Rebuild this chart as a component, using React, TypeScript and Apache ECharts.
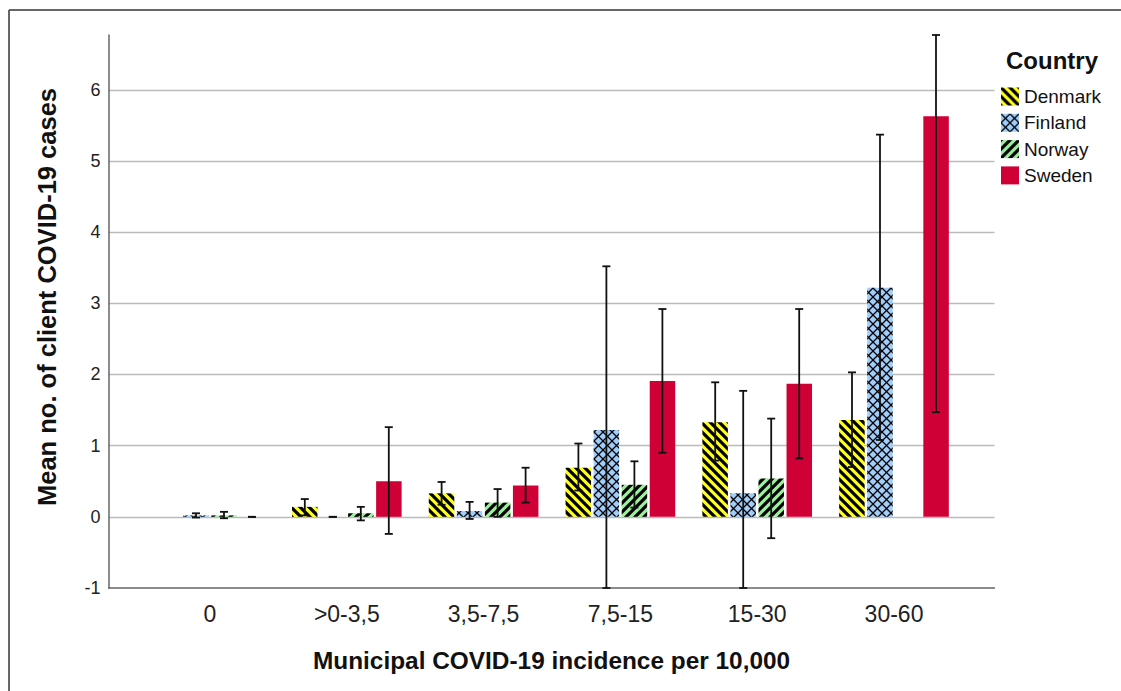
import React, { useEffect, useRef } from 'react';
import * as echarts from 'echarts';

const categories = ['0', '>0-3,5', '3,5-7,5', '7,5-15', '15-30', '30-60'];
const countries = ['Denmark', 'Finland', 'Norway', 'Sweden'];

const denmarkMean = [null, 0.14, 0.33, 0.69, 1.33, 1.36];
const denmarkLow = [null, 0.02, 0.17, 0.37, 0.79, 0.7];
const denmarkHigh = [null, 0.25, 0.49, 1.03, 1.89, 2.03];

const finlandMean = [0.02, 0, 0.08, 1.22, 0.33, 3.22];
const finlandLow = [-0.01, 0, -0.03, -1.0, -1.0, 1.08];
const finlandHigh = [0.05, 0, 0.21, 3.52, 1.77, 5.37];

const norwayMean = [0.02, 0.05, 0.2, 0.45, 0.54, null];
const norwayLow = [-0.02, -0.05, 0.0, 0.13, -0.3, null];
const norwayHigh = [0.07, 0.14, 0.39, 0.78, 1.38, null];

const swedenMean = [0, 0.5, 0.44, 1.91, 1.87, 5.63];
const swedenLow = [0, -0.24, 0.2, 0.9, 0.82, 1.47];
const swedenHigh = [0, 1.26, 0.69, 2.92, 2.92, 6.77];

const yMin = -1;
const yMax = 6.77;
const yInterval = 1;

const FONT = '"Liberation Sans", Arial, Helvetica, sans-serif';

function makePattern(bg: string, kind: 'back' | 'fwd' | 'cross') {
  const T = 9;
  const s = 4;
  const size = Math.round(T * s);
  const c = document.createElement('canvas');
  c.width = size;
  c.height = size;
  const ctx = c.getContext('2d') as CanvasRenderingContext2D;
  ctx.fillStyle = bg;
  ctx.fillRect(0, 0, size, size);
  ctx.strokeStyle = '#000';
  const back = (lw: number) => {
    ctx.lineWidth = lw * s;
    for (const x0 of [-size, 0, size]) {
      ctx.beginPath();
      ctx.moveTo(x0 - size, -size);
      ctx.lineTo(x0 + 2 * size, 2 * size);
      ctx.stroke();
    }
  };
  const fwd = (lw: number) => {
    ctx.lineWidth = lw * s;
    for (const x0 of [-size, 0, size]) {
      ctx.beginPath();
      ctx.moveTo(x0 + 2 * size, -size);
      ctx.lineTo(x0 - size, 2 * size);
      ctx.stroke();
    }
  };
  if (kind === 'back') back(3.2);
  if (kind === 'fwd') fwd(3.2);
  if (kind === 'cross') {
    back(1.3);
    fwd(1.3);
  }
  return { image: c, repeat: 'repeat', imageWidth: T, imageHeight: T } as any;
}

const BAR_W = 25.5;
const STEP = 28;

export default function App() {
  const ref = useRef<HTMLDivElement>(null);
  useEffect(() => {
    if (!ref.current) return;
    const chart = echarts.init(ref.current, undefined, { renderer: 'svg' });

    const fills = [
      makePattern('#ffff1e', 'back'),
      makePattern('#a0cefa', 'cross'),
      makePattern('#9cf09c', 'fwd'),
      '#cf0036',
    ];
    const means = [denmarkMean, finlandMean, norwayMean, swedenMean];
    const lows = [denmarkLow, finlandLow, norwayLow, swedenLow];
    const highs = [denmarkHigh, finlandHigh, norwayHigh, swedenHigh];

    const barSeries = countries.map((name, k) => ({
      name,
      type: 'bar',
      xAxisIndex: 1,
      yAxisIndex: 1,
      barWidth: BAR_W,
      barGap: '10%',
      itemStyle: { color: fills[k] },
      data: means[k],
      z: 2,
    }));

    const errSeries = countries.map((name, k) => {
      const data: number[][] = [];
      categories.forEach((_, i) => {
        const lo = lows[k][i];
        const hi = highs[k][i];
        if (lo != null && hi != null) data.push([i, lo, hi]);
      });
      const offset = (k - 1.5) * STEP;
      return {
        type: 'custom',
        xAxisIndex: 1,
        yAxisIndex: 1,
        z: 5,
        silent: true,
        encode: { x: 0, y: [1, 2] },
        data,
        renderItem: (params: any, api: any) => {
          const ci = api.value(0);
          const pLo = api.coord([ci, api.value(1)]);
          const pHi = api.coord([ci, api.value(2)]);
          const x = pLo[0] + offset;
          const cap = 4;
          const st = { stroke: '#111', lineWidth: 1.8 };
          return {
            type: 'group',
            children: [
              { type: 'line', shape: { x1: x, y1: pHi[1], x2: x, y2: pLo[1] }, style: st },
              { type: 'line', shape: { x1: x - cap, y1: pHi[1], x2: x + cap, y2: pHi[1] }, style: st },
              { type: 'line', shape: { x1: x - cap, y1: pLo[1], x2: x + cap, y2: pLo[1] }, style: st },
            ],
          };
        },
      };
    });

    const option: any = {
      animation: false,
      backgroundColor: '#ffffff',
      textStyle: { fontFamily: FONT },
      title: {
        text: 'Country',
        left: 1006,
        top: 48,
        padding: 0,
        textStyle: { fontSize: 24, fontWeight: 'bold', color: '#111', fontFamily: FONT },
      },
      legend: {
        data: countries,
        orient: 'vertical',
        left: 1001,
        top: 87,
        padding: 0,
        itemWidth: 18,
        itemHeight: 18,
        itemGap: 7.3,
        icon: 'rect',
        selectedMode: false,
        textStyle: { fontSize: 19, color: '#111', fontFamily: FONT, padding: [0, 0, 0, 0] },
      },
      grid: [
        { left: 108.6, right: 126.5, top: 35, bottom: 103 },
        { left: 141.6, right: 158.6, top: 35, bottom: 103 },
      ],
      xAxis: [
        {
          type: 'value',
          gridIndex: 0,
          min: 0,
          max: 1,
          axisLine: { show: true, onZero: false, lineStyle: { color: '#666', width: 1.5 } },
          axisTick: { show: false },
          axisLabel: { show: false },
          splitLine: { show: false },
          name: 'Municipal COVID-19 incidence per 10,000',
          nameLocation: 'middle',
          nameGap: 60,
          nameTextStyle: { fontSize: 24.4, fontWeight: 'bold', color: '#111', fontFamily: FONT },
        },
        {
          type: 'category',
          gridIndex: 1,
          data: categories,
          axisLine: { show: false },
          axisTick: { show: false },
          axisLabel: { fontSize: 23, color: '#222', margin: 14, fontFamily: FONT, interval: 0 },
          splitLine: { show: false },
        },
      ],
      yAxis: [
        {
          type: 'value',
          gridIndex: 0,
          min: yMin,
          max: yMax,
          interval: yInterval,
          axisLine: { show: true, onZero: false, lineStyle: { color: '#666', width: 1.5 } },
          axisTick: { show: false },
          axisLabel: {
            fontSize: 18,
            color: '#222',
            margin: 8,
            fontFamily: FONT,
            showMaxLabel: false,
            formatter: (v: number) => (Math.abs(v - Math.round(v)) < 1e-6 ? String(Math.round(v)) : ''),
          },
          splitLine: { show: true, showMinLine: false, showMaxLine: false, lineStyle: { color: '#bbbbbb', width: 1.3 } },
        },
        {
          type: 'value',
          gridIndex: 1,
          min: yMin,
          max: yMax,
          show: false,
          splitLine: { show: false },
        },
      ],
      graphic: [
        {
          type: 'line',
          shape: { x1: 9, y1: 10, x2: 1121, y2: 10 },
          style: { stroke: '#333', lineWidth: 1.5 },
        },
        {
          type: 'line',
          shape: { x1: 9, y1: 10, x2: 9, y2: 691 },
          style: { stroke: '#333', lineWidth: 1.5 },
        },
        {
          type: 'text',
          x: 47,
          y: 297,
          rotation: Math.PI / 2,
          style: {
            text: 'Mean no. of client COVID-19 cases',
            fontSize: 25.5,
            fontWeight: 'bold',
            fill: '#111',
            fontFamily: FONT,
            align: 'center',
            verticalAlign: 'middle',
          },
        },
      ],
      series: [...barSeries, ...errSeries],
    };
    chart.setOption(option);
    return () => chart.dispose();
  }, []);
  return (
    <div
      ref={ref}
      style={{ position: 'fixed', left: 0, top: 0, width: 1121, height: 691, background: '#fff' }}
    />
  );
}
